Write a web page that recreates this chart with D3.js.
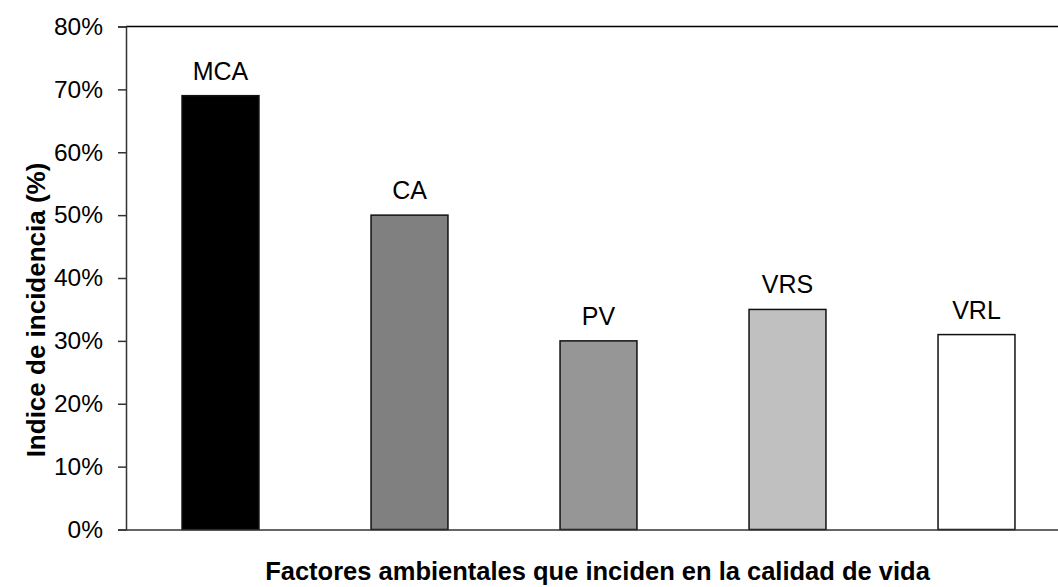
<!DOCTYPE html>
<html>
<head>
<meta charset="utf-8">
<script src="https://cdn.jsdelivr.net/npm/d3@7"></script>
<style>
  body { margin: 0; background: #fff; }
  svg { display: block; font-family: "Liberation Sans", Arial, sans-serif; }
</style>
</head>
<body>
<script>
// data
let categories = ["MCA", "CA", "PV", "VRS", "VRL"];
let values = [0.69, 0.50, 0.30, 0.35, 0.31];
let fills = ["#000000", "#808080", "#969696", "#c0c0c0", "#ffffff"];
let yTicks = [0, 0.1, 0.2, 0.3, 0.4, 0.5, 0.6, 0.7, 0.8];
let xTitle = "Factores ambientales que inciden en la calidad de vida";
let yTitle = "Indice de incidencia (%)";

let W = 1058, H = 587;
// plot runs past the right edge of the picture, as in the reference
let margin = {top: 26.5, left: 126, bottom: 57.5};
let plotRight = 1071;

let svg = d3.select("body").append("svg")
  .attr("width", W)
  .attr("height", H);

let xScale = d3.scaleBand()
  .domain(categories)
  .range([margin.left, plotRight])
  .paddingInner(0.593)
  .paddingOuter(0.2965);

let yScale = d3.scaleLinear()
  .domain([0, 0.8])
  .range([H - margin.bottom, margin.top]);

// top frame line
svg.append("line")
  .attr("x1", margin.left).attr("x2", plotRight)
  .attr("y1", yScale(0.8)).attr("y2", yScale(0.8))
  .attr("stroke", "#000").attr("stroke-width", 1.5);

// bars
svg.selectAll("rect.bar")
    .data(values)
  .enter().append("rect")
    .attr("class", "bar")
    .attr("x", function(d, i) { return xScale(categories[i]); })
    .attr("y", function(d) { return yScale(d); })
    .attr("width", xScale.bandwidth())
    .attr("height", function(d) { return yScale(0) - yScale(d); })
    .attr("fill", function(d, i) { return fills[i]; })
    .attr("stroke", "#111")
    .attr("stroke-width", 1.5);

// bar labels
svg.selectAll("text.lbl")
    .data(values)
  .enter().append("text")
    .attr("class", "lbl")
    .attr("x", function(d, i) { return xScale(categories[i]) + xScale.bandwidth() / 2; })
    .attr("y", function(d) { return yScale(d) - 16; })
    .attr("text-anchor", "middle")
    .attr("font-size", 25)
    .attr("fill", "#000")
    .text(function(d, i) { return categories[i]; });

// y axis
let yAxis = svg.append("g")
  .attr("transform", "translate(" + margin.left + ",0)")
  .call(d3.axisLeft(yScale)
    .tickValues(yTicks)
    .tickFormat(d3.format(".0%"))
    .tickSize(8)
    .tickPadding(15));
yAxis.select(".domain").attr("stroke", "#333").attr("stroke-width", 1.5);
yAxis.selectAll(".tick line").attr("stroke", "#333").attr("stroke-width", 1.5);
yAxis.selectAll(".tick text")
  .attr("font-size", 24.5)
  .attr("font-family", "Liberation Sans, Arial, sans-serif")
  .attr("fill", "#000");

// x axis line (no ticks)
let xAxis = svg.append("g")
  .attr("transform", "translate(0," + yScale(0) + ")")
  .call(d3.axisBottom(xScale).tickSize(0).tickFormat(""));
xAxis.select(".domain").attr("stroke", "#333").attr("stroke-width", 1.5);

// axis titles
svg.append("text")
  .attr("x", (margin.left + plotRight) / 2 - 1)
  .attr("y", 580)
  .attr("text-anchor", "middle")
  .attr("font-size", 25.5)
  .attr("font-weight", "bold")
  .text(xTitle);

svg.append("text")
  .attr("transform", "translate(45," + 310 + ") rotate(-90)")
  .attr("text-anchor", "middle")
  .attr("font-size", 26)
  .attr("font-weight", "bold")
  .text(yTitle);
</script>
</body>
</html>
